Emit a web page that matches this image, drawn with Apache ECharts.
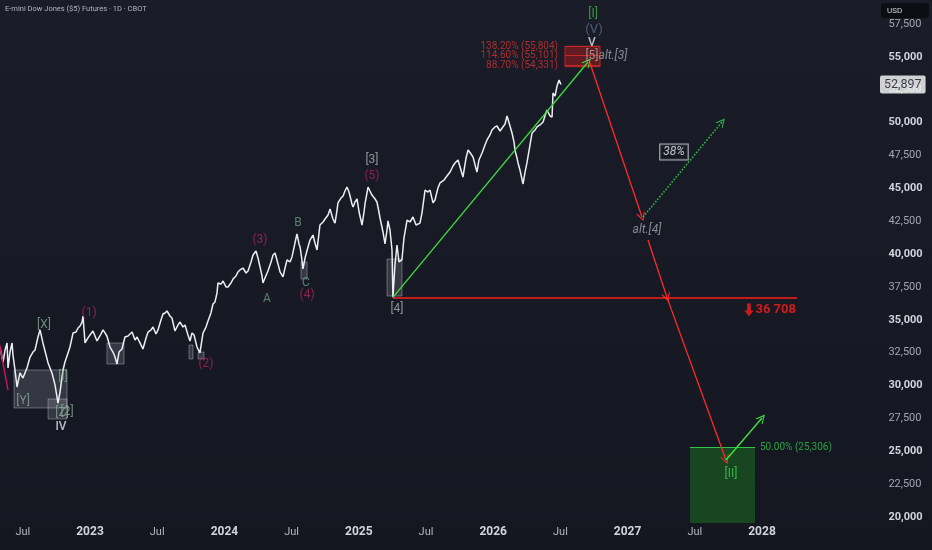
<!DOCTYPE html>
<html><head><meta charset="utf-8">
<script src="https://cdn.jsdelivr.net/npm/echarts@6/dist/echarts.min.js"></script>
<style>html,body{margin:0;padding:0;background:#161a24;}#c{width:932px;height:550px;}</style>
</head><body><div id="c"></div>
<script>
// ---------- data (time in decimal years, values in index points) ----------
const priceData = [
[2022.330,32930],[2022.353,31790],[2022.368,32700],[2022.383,33240],[2022.390,31340],[2022.405,32550],[2022.420,33240],[2022.427,32320],[2022.442,31180],[2022.457,29890],[2022.479,30960],[2022.501,30570],[2022.531,31340],[2022.554,32170],[2022.576,32550],[2022.591,32700],[2022.613,33690],[2022.628,34230],[2022.650,33240],[2022.673,32320],[2022.688,31720],[2022.717,30960],[2022.740,30040],[2022.762,28670],[2022.777,29510],[2022.799,31180],[2022.814,31790],[2022.829,32250],[2022.851,32930],[2022.874,34000],[2022.896,34070],[2022.911,34380],[2022.926,34530],[2022.941,34830],[2022.948,35290],[2022.963,33240],[2022.985,33620],[2023.000,33850],[2023.022,34150],[2023.052,33390],[2023.074,33770],[2023.097,34230],[2023.126,33770],[2023.149,32930],[2023.171,32550],[2023.186,32170],[2023.201,31640],[2023.216,32550],[2023.238,32780],[2023.260,33690],[2023.283,33770],[2023.313,34070],[2023.335,33460],[2023.350,33690],[2023.372,33240],[2023.394,32780],[2023.417,33620],[2023.432,34070],[2023.454,34230],[2023.469,34450],[2023.491,33920],[2023.506,34230],[2023.528,34990],[2023.543,35440],[2023.558,35520],[2023.573,35670],[2023.595,35290],[2023.610,35140],[2023.632,34150],[2023.655,34610],[2023.670,34830],[2023.692,34450],[2023.707,34610],[2023.729,33850],[2023.744,33390],[2023.759,34000],[2023.774,33850],[2023.796,32930],[2023.818,32480],[2023.841,34000],[2023.863,34450],[2023.878,34910],[2023.900,35520],[2023.915,36200],[2023.930,36360],[2023.945,37040],[2023.952,37800],
[2023.975,37720],[2023.990,37950],[2024.012,37500],[2024.027,37500],[2024.049,37800],[2024.064,38100],[2024.086,38330],[2024.101,38640],[2024.116,38790],[2024.138,38940],[2024.161,38560],[2024.176,38710],[2024.198,39400],[2024.213,39930],[2024.235,40230],[2024.250,39700],[2024.265,39020],[2024.280,38330],[2024.287,37800],[2024.302,38180],[2024.324,38710],[2024.347,39400],[2024.362,39930],[2024.377,40080],[2024.399,39250],[2024.414,38640],[2024.436,38260],[2024.451,38940],[2024.466,39550],[2024.488,39400],[2024.503,39780],[2024.525,40840],[2024.540,41530],[2024.555,40770],[2024.563,40540],[2024.577,39550],[2024.585,38870],[2024.600,39700],[2024.622,40540],[2024.637,41070],[2024.659,41450],[2024.674,40840],[2024.689,40310],[2024.704,41600],[2024.711,42210],[2024.734,42440],[2024.749,42670],[2024.771,42970],[2024.786,43430],[2024.808,42670],[2024.823,42360],[2024.838,43350],[2024.845,43890],[2024.868,44270],[2024.883,44420],[2024.897,44800],[2024.912,45100],[2024.927,44720],[2024.935,44420],[2024.949,43810],[2024.957,43580],[2024.972,43960],[2024.987,44190],[2025.002,43200],[2025.024,42210],[2025.039,43200],[2025.046,43810],[2025.061,44650],[2025.069,45100],[2025.083,44800],[2025.098,44490],[2025.121,44190],[2025.135,43960],[2025.150,43200],[2025.158,42740],[2025.180,41680],[2025.195,40770],[2025.210,41830],[2025.217,42520],[2025.232,41830],[2025.247,40310],[2025.254,36708],
[2025.269,39170],[2025.284,40690],[2025.299,39400],[2025.321,39550],[2025.336,41220],[2025.359,42590],[2025.381,42440],[2025.403,42820],[2025.426,42210],[2025.455,42360],[2025.470,43120],[2025.493,44870],[2025.515,44720],[2025.530,44870],[2025.552,43890],[2025.567,44110],[2025.589,45030],[2025.604,45410],[2025.634,45630],[2025.656,45940],[2025.679,46240],[2025.701,46700],[2025.716,46930],[2025.738,47160],[2025.760,46400],[2025.775,45860],[2025.798,47310],[2025.813,47920],[2025.835,47610],[2025.850,47380],[2025.865,46780],[2025.879,46240],[2025.894,47160],[2025.917,47690],[2025.939,48300],[2025.954,48680],[2025.976,49060],[2025.991,49440],[2026.013,49670],[2026.028,49740],[2026.051,49360],[2026.065,49210],[2026.088,49890],[2026.103,50500],[2026.125,49740],[2026.140,49210],[2026.155,48520],[2026.162,47920],[2026.177,47310],[2026.185,46930],[2026.199,46400],[2026.222,45330],[2026.237,46240],[2026.251,46930],[2026.274,48300],[2026.289,49210],[2026.311,49440],[2026.326,49670],[2026.348,49820],[2026.371,50050],[2026.385,50500],[2026.400,50960],[2026.423,50500],[2026.438,50430],[2026.445,52250],[2026.460,52020],[2026.475,52780],[2026.490,53240],[2026.497,53390],[2026.504,52897]
];
const lastPrice = 52897;
const lastPriceTagTime = 2028.878;

const timeTicks = [2022.5, 2023, 2023.5, 2024, 2024.5, 2025, 2025.5, 2026, 2026.5, 2027, 2027.5, 2028];
const priceTicks = [20000, 22500, 25000, 27500, 30000, 32500, 35000, 37500, 40000, 42500, 45000, 47500, 50000, 52500, 55000, 57500];

const crimsonWaves = [[2022.993,35518,'(1)'],[2023.863,31639,'(2)'],[2024.265,41071,'(3)'],[2024.615,36887,'(4)'],[2025.098,45938,'(5)']];
const correctionWaves = [[2024.317,36583,'A'],[2024.548,42364,'B'],[2024.607,37800,'C']];
const complexWaves = [[2022.658,34605,'[X]'],[2022.502,28825,'[Y]'],[2022.792,27912,'[Z]'],[2022.829,27988,'[2]'],[2022.799,30650,'[I]']];
const primaryWaves = [[2025.098,47155,'[3]'],[2025.284,35822,'[4]'],[2026.735,55066,'[5]']];
const cycleWaves = [[2022.784,26847,'IV'],[2026.735,56054,'V']];
const superWaves = [[2026.750,57043,'(V)']];
const topWave = [[2026.743,58260,'[I]']];
const bottomWave = [[2027.769,23273,'[II]']];
const altWaves = [[2026.891,55066,'alt.[3]'],[2027.144,41831,'alt.[4]']];
const altProbability = [[2027.345,47764,'38%']];

const waveBoxes = [
  [2022.435,28293,2022.829,31183],
  [2022.688,27456,2022.829,28977],
  [2023.126,31639,2023.253,33236],
  [2023.737,32020,2023.766,33084],
  [2023.804,32020,2023.848,32552],
  [2024.570,38104,2024.615,39397],
  [2025.210,36811,2025.321,39625]
];

const fibLevels = [55804, 55101, 54331];
const fibRatios = ['138.20%', '114.60%', '88.70%'];
const fibLabelTime = 2026.482;
const fibZone = [2026.534, 54250, 2026.795, 55804];

const supportLevel = 36708;
const supportSpan = [2025.254, 2028.260];
const supportTag = [2027.903, 35746];

const retraceLevel = 25306;
const retraceRatio = '50.00%';
const retraceZone = [2027.464, 19545, 2027.948, 25306];
const retraceLabelTime = 2027.985;

const impulseArrow = [[2025.254,36708],[2026.705,54609]];
const dropArrows = [
  [[2026.720,54533],[2027.107,42820]],
  [[2027.152,41071],[2027.293,36708]],
  [[2027.293,36708],[2027.732,24337]]
];
const altBounce = [[2027.115,42820],[2027.702,50046]];
const finalBounce = [[2027.732,24337],[2028.000,27532]];
const priorWaveLine = [[2022.300,34600],[2022.390,29660]];

// ---------- chart ----------
const FONT = 'Roboto, "Noto Sans", "DejaVu Sans", sans-serif';
const chevron = 'path://M0,9 L5,0 L10,9 L8.8,9 L5,2.4 L1.2,9 Z';
const downArrow = 'path://M3,0 L7,0 L7,7 L10,7 L5,13 L0,7 L3,7 Z';

function labels(items, style, z) {
  return {type:'scatter', silent:true, clip:false, z: z || 12, symbolSize:1,
    itemStyle:{color:'rgba(0,0,0,0)'},
    data: items.map(d => ({value:[d[0], d[1]], name:d[2]})),
    label: Object.assign({show:true, position:'inside', formatter:p => p.name, fontFamily:FONT, fontSize:12}, style)};
}
function segs(list, color, width, type, head, z) {
  return {type:'lines', coordinateSystem:'cartesian2d', silent:true, z: z || 6,
    symbol:['none', head ? chevron : 'none'], symbolSize: head ? [10, 9] : 0,
    lineStyle:{color:color, width:width, type:type || 'solid', opacity:1, curveness:0},
    data: list.map(c => ({coords:c}))};
}
function boxes(list, fill, border, z) {
  return {type:'line', data:[], silent:true, z: z || 3,
    markArea:{silent:true, itemStyle:{color:fill, borderColor:border, borderWidth: border ? 1 : 0},
      data: list.map(b => [{xAxis:b[0], yAxis:b[1]}, {xAxis:b[2], yAxis:b[3]}])}};
}

const chart = echarts.init(document.getElementById('c'), null, {renderer:'canvas'});
chart.setOption({
  animation:false,
  backgroundColor: new echarts.graphic.LinearGradient(0,0,0,1,[{offset:0,color:'#1a1d28'},{offset:1,color:'#141720'}]),
  grid:{left:0, right:35.6, top:0, bottom:0},
  xAxis:{type:'value', min:2022.3304, max:2029,
    axisLine:{show:false}, axisTick:{show:false}, splitLine:{show:false},
    axisLabel:{inside:true, margin:12, hideOverlap:false, customValues:timeTicks,
      formatter: v => Number.isInteger(v) ? '{y|' + v + '}' : '{m|Jul}',
      rich:{y:{fontFamily:FONT, fontSize:12, fontWeight:'bold', color:'#d1d4dc'},
            m:{fontFamily:FONT, fontSize:11, color:'#b2b5be'}}}},
  yAxis:{type:'value', position:'right', min:17492, max:59325,
    axisLine:{show:false}, axisTick:{show:false}, splitLine:{show:false},
    axisLabel:{margin:-8, align:'left', customValues:priceTicks,
      formatter: v => v % 5000 === 0 ? '{b|' + v.toLocaleString('en-US') + '}' : '{n|' + v.toLocaleString('en-US') + '}',
      rich:{b:{fontFamily:FONT, fontSize:11, fontWeight:'bold', color:'#d1d4dc'},
            n:{fontFamily:FONT, fontSize:11, color:'#a3a6af'}}}},
  graphic:[
    {type:'text', left:5, top:5, style:{text:'E-mini Dow Jones ($5) Futures · 1D · CBOT', fill:'#b2b5be', font:'7.5px ' + FONT}},
    {type:'group', left:881, top:3, children:[
      {type:'rect', shape:{x:0, y:0, width:48, height:15, r:2}, style:{fill:'#0c0e13'}},
      {type:'text', x:6, y:4, style:{text:'USD', fill:'#d1d4dc', font:'8px ' + FONT}}
    ]}
  ],
  series:[
    boxes(waveBoxes, 'rgba(210,215,225,0.17)', 'rgba(220,225,235,0.35)', 3),
    {type:'line', data:priceData, showSymbol:false, symbol:'none', silent:true, z:4,
      lineStyle:{color:'#eceef2', width:1.5}},
    boxes([fibZone], 'rgba(150,25,30,0.6)', 'rgba(200,40,40,0.9)', 5),
    segs(fibLevels.map(v => [[fibZone[0], v], [fibZone[2], v]]), '#c62828', 1, 'solid', false, 5),
    boxes([retraceZone], '#174620', null, 3),
    segs([[[retraceZone[0], retraceLevel], [retraceZone[2], retraceLevel]]], '#35c24a', 1.2, 'solid', false, 5),
    segs([[[supportSpan[0], supportLevel], [supportSpan[1], supportLevel]]], '#ff1c1c', 1.6, 'solid', false, 6),
    segs([impulseArrow], '#3ddc3d', 1.3, 'solid', true, 7),
    segs(dropArrows, '#ff2a2a', 1.3, 'solid', true, 7),
    segs([altBounce], '#2db84a', 1.6, 'dotted', true, 7),
    segs([finalBounce], '#3ee23e', 1.4, 'solid', true, 7),
    segs([priorWaveLine], '#c2185b', 1.5, 'solid', false, 6),
    labels(crimsonWaves, {color:'#b3235a', fontSize:12}),
    labels(correctionWaves, {color:'#6a9a80', fontSize:12}),
    labels(complexWaves, {color:'#8aa896', fontSize:12}),
    labels(primaryWaves, {color:'#a9b0b3', fontSize:12}),
    labels(cycleWaves, {color:'#e0e3ea', fontSize:12, fontWeight:'500'}),
    labels(superWaves, {color:'#5d6b8c', fontSize:13}),
    labels(topWave, {color:'#3fb950', fontSize:12}),
    labels(bottomWave, {color:'#3fcf4f', fontSize:12}),
    labels(altWaves, {color:'#a0a6ad', fontSize:12, fontStyle:'italic'}),
    labels(altProbability, {color:'#eeeeee', fontSize:12, fontStyle:'italic', backgroundColor:'#181c27',
      borderColor:'#d1d4dc', borderWidth:1, padding:[2,3,1,3]}),
    labels(fibLevels.map((v, i) => [fibLabelTime, v, fibRatios[i] + ' (' + v.toLocaleString('en-US') + ')']),
      {color:'#d32f2f', fontSize:10, align:'right'}),
    labels([[retraceLabelTime, retraceLevel, retraceRatio + ' (' + retraceLevel.toLocaleString('en-US') + ')']],
      {color:'#2ec24a', fontSize:10, align:'left'}),
    {type:'scatter', silent:true, clip:false, z:12, symbol:downArrow, symbolSize:[9,13],
      itemStyle:{color:'#ff1c1c'},
      data:[{value:supportTag, name:supportLevel.toLocaleString('en-US').replace(',', ' ')}],
      label:{show:true, position:'right', distance:2, formatter:p => p.name, fontFamily:FONT,
        fontSize:13, fontWeight:'bold', color:'#ff1c1c'}},
    labels([[lastPriceTagTime, lastPrice, lastPrice.toLocaleString('en-US')]],
      {color:'#131722', fontSize:12.5, align:'left', backgroundColor:'#ffffff', padding:[3,4,2,4], borderRadius:2}, 20)
  ]
});
</script></body></html>
